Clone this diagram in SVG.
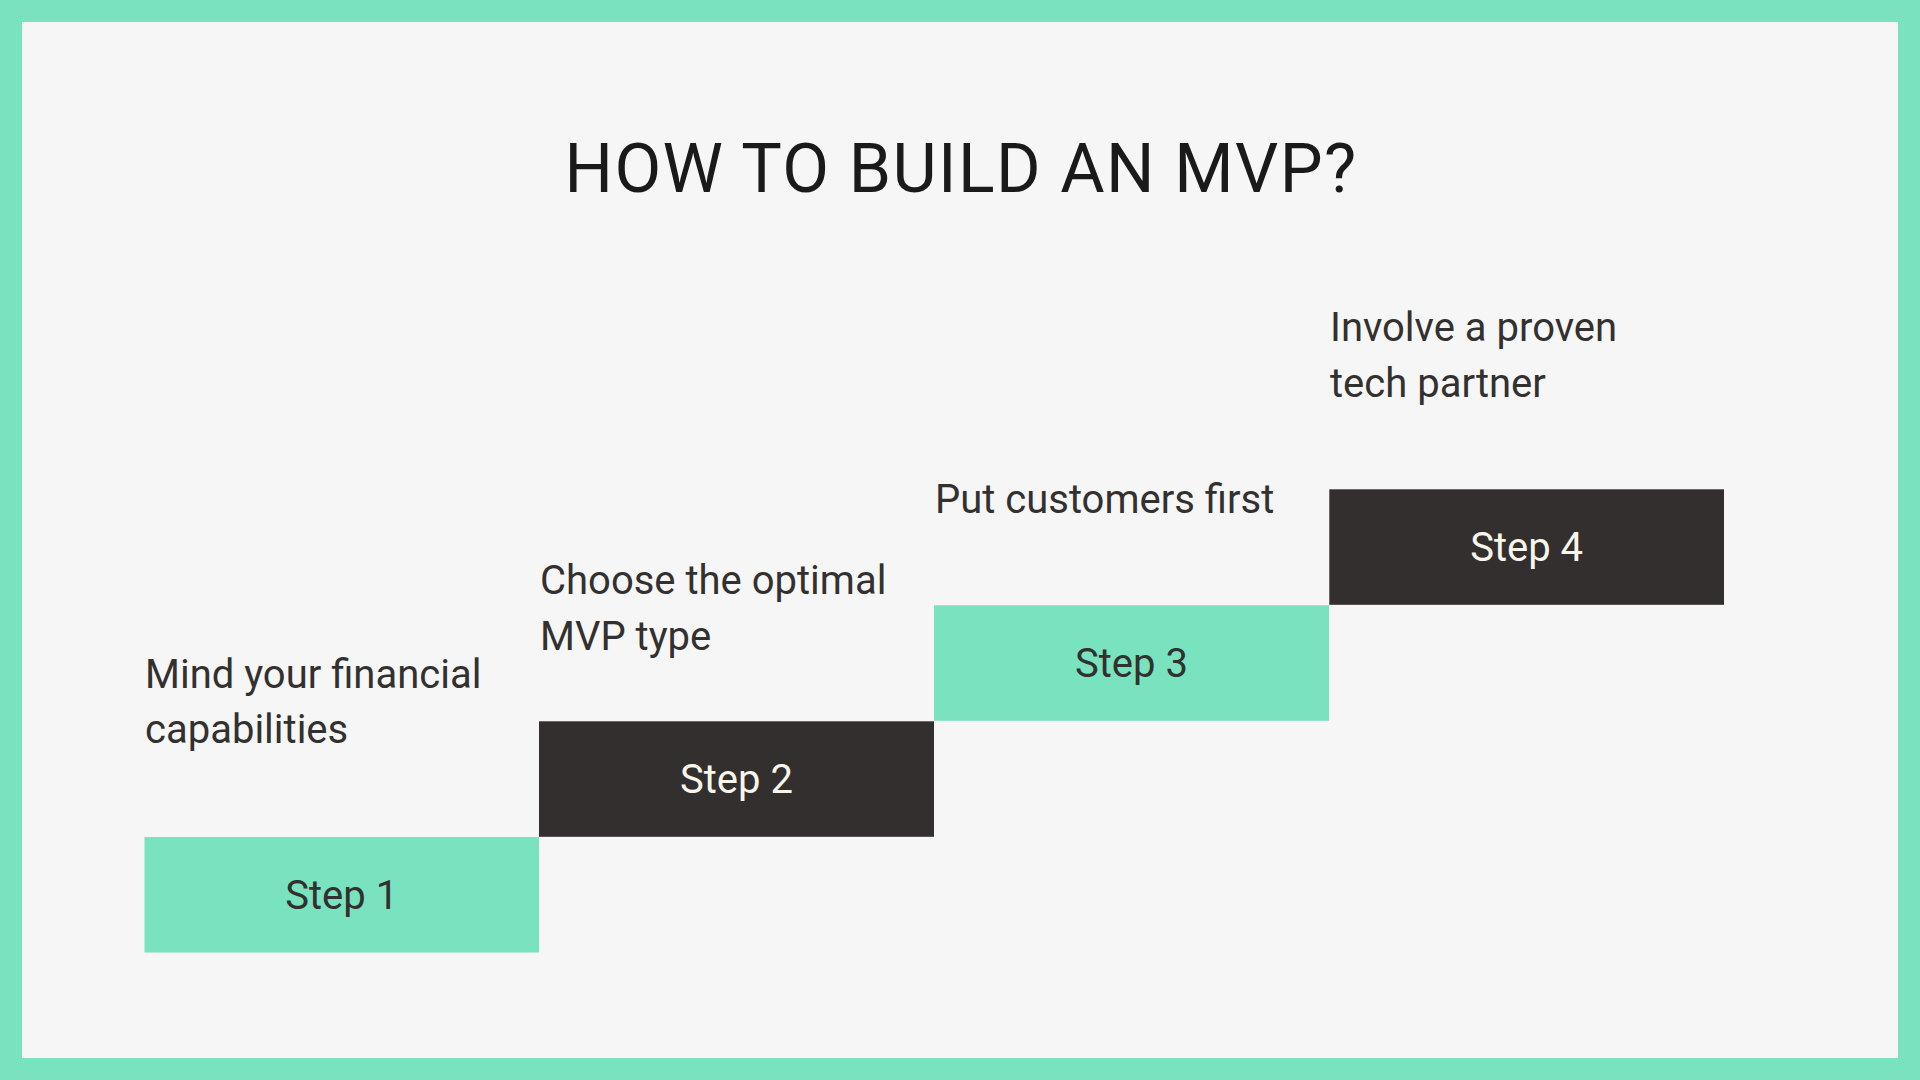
<svg xmlns="http://www.w3.org/2000/svg" width="1920" height="1080" viewBox="0 0 1920 1080">
<style>
.t{font-family:Roboto,"Liberation Sans",sans-serif}
.lbl{font-size:40px;fill:#333030}
.stp{font-size:40px;text-anchor:middle}
.g{fill:#79E2BF}
.d{fill:#332F2E}
</style>
<rect x="0" y="0" width="1920" height="1080" fill="#79E2BF"/>
<rect x="22" y="22" width="1876" height="1036" fill="#F6F6F6"/>
<text class="t" x="961" y="192" font-size="68" letter-spacing="1.4" text-anchor="middle" fill="#1A1A1A">HOW TO BUILD AN MVP?</text>
<g id="connectors"></g>
<g id="step1">
<rect class="g" x="144.5" y="837" width="394.5" height="115.5"/>
<text class="t stp" x="341.7" y="909.3" fill="#333030">Step 1</text>
<text class="t lbl" x="145" y="688">Mind your financial</text>
<text class="t lbl" x="145" y="743">capabilities</text>
</g>
<g id="step2">
<rect class="d" x="539" y="721.3" width="395" height="115.5"/>
<text class="t stp" x="736.5" y="793.3" fill="#F8F5EA">Step 2</text>
<text class="t lbl" x="540" y="594">Choose the optimal</text>
<text class="t lbl" x="540" y="650">MVP type</text>
</g>
<g id="step3">
<rect class="g" x="934" y="605.3" width="395" height="115.5"/>
<text class="t stp" x="1131.5" y="677.3" fill="#333030">Step 3</text>
<text class="t lbl" x="935" y="512.5">Put customers first</text>
</g>
<g id="step4">
<rect class="d" x="1329.3" y="489.3" width="394.7" height="115.5"/>
<text class="t stp" x="1526.6" y="561.3" fill="#F8F5EA">Step 4</text>
<text class="t lbl" x="1330" y="341">Involve a proven</text>
<text class="t lbl" x="1330" y="396.5">tech partner</text>
</g>
</svg>
